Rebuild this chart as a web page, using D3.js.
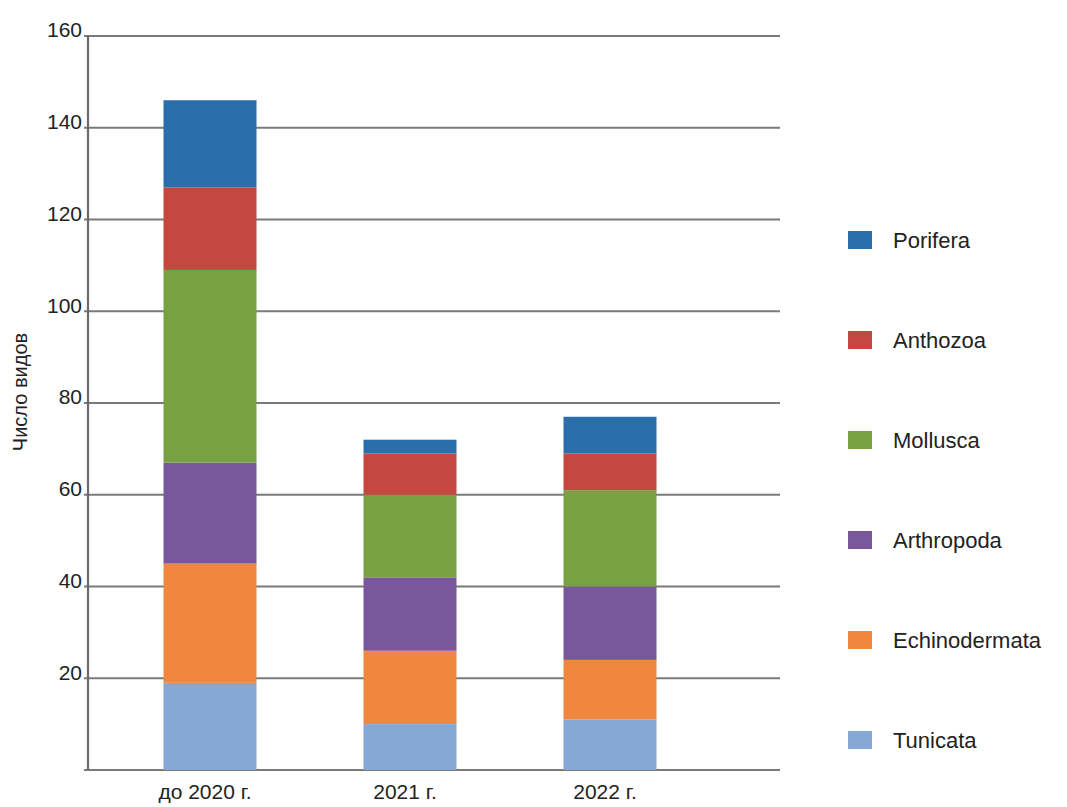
<!DOCTYPE html>
<html>
<head>
<meta charset="utf-8">
<script src="https://cdn.jsdelivr.net/npm/d3@7"></script>
<style>
  body { margin: 0; background: #fff; }
  svg { font-family: "Liberation Sans", Arial, sans-serif; }
</style>
</head>
<body>
<svg width="1067" height="807"></svg>
<script>
// data
const periods = ["до 2020 г.", "2021 г.", "2022 г."];
const groups = ["Tunicata", "Echinodermata", "Arthropoda", "Mollusca", "Anthozoa", "Porifera"];
const tunicata = [19, 10, 11];
const echinodermata = [26, 16, 13];
const arthropoda = [22, 16, 16];
const mollusca = [42, 18, 21];
const anthozoa = [18, 9, 8];
const porifera = [19, 3, 8];
const yTicks = [20, 40, 60, 80, 100, 120, 140, 160];
const gridValues = [0, 20, 40, 60, 80, 100, 120, 140, 160];

const colors = {
  Tunicata: "#86a8d5",
  Echinodermata: "#ef873e",
  Arthropoda: "#7a569a",
  Mollusca: "#78a143",
  Anthozoa: "#c6473f",
  Porifera: "#2a6eab"
};

const rows = periods.map((p, i) => ({
  period: p,
  Tunicata: tunicata[i],
  Echinodermata: echinodermata[i],
  Arthropoda: arthropoda[i],
  Mollusca: mollusca[i],
  Anthozoa: anthozoa[i],
  Porifera: porifera[i]
}));

const svg = d3.select("svg");

const axisX = 88, gridRight = 780;

const x = d3.scaleBand()
    .domain(periods)
    .range([110, 710])
    .paddingInner(0.535)
    .paddingOuter(0.2675);

const y = d3.scaleLinear()
    .domain([0, 160])
    .range([770, 36]);

// gridlines
svg.append("g")
  .selectAll("line")
  .data(gridValues)
  .enter().append("line")
    .attr("x1", axisX - 4)
    .attr("x2", gridRight)
    .attr("y1", d => y(d))
    .attr("y2", d => y(d))
    .attr("stroke", "#7a7a7a")
    .attr("stroke-width", 2.2);

// vertical axis line
svg.append("line")
    .attr("x1", axisX).attr("x2", axisX)
    .attr("y1", y(160)).attr("y2", y(0))
    .attr("stroke", "#6a6a6a")
    .attr("stroke-width", 2.2);

// tick labels
svg.append("g")
  .selectAll("text")
  .data(yTicks)
  .enter().append("text")
    .attr("x", 82)
    .attr("y", d => y(d) - 6)
    .attr("dy", "0.35em")
    .attr("text-anchor", "end")
    .attr("font-size", 21)
    .attr("fill", "#222")
    .text(d => d);

// stacked bars
const stack = d3.stack().keys(groups);
const series = stack(rows);

svg.append("g")
  .selectAll("g")
  .data(series)
  .enter().append("g")
    .attr("fill", d => colors[d.key])
  .selectAll("rect")
  .data(d => d)
  .enter().append("rect")
    .attr("x", d => x(d.data.period))
    .attr("width", x.bandwidth())
    .attr("y", d => y(d[1]))
    .attr("height", d => y(d[0]) - y(d[1]));

// category labels
svg.append("g")
  .selectAll("text")
  .data(periods)
  .enter().append("text")
    .attr("x", d => x(d) + x.bandwidth() / 2 - 5)
    .attr("y", 799)
    .attr("text-anchor", "middle")
    .attr("font-size", 21)
    .attr("fill", "#222")
    .text(d => d);

// y title
svg.append("text")
    .attr("transform", "translate(27, 392) rotate(-90)")
    .attr("text-anchor", "middle")
    .attr("font-size", 20)
    .attr("fill", "#222")
    .text("Число видов");

// legend
const legendOrder = groups.slice().reverse();
const legend = svg.append("g")
  .selectAll("g")
  .data(legendOrder)
  .enter().append("g")
    .attr("transform", (d, i) => `translate(848, ${240 + i * 100})`);

legend.append("rect")
    .attr("x", 0)
    .attr("y", -9)
    .attr("width", 24)
    .attr("height", 18)
    .attr("fill", d => colors[d]);

legend.append("text")
    .attr("x", 45)
    .attr("dy", "0.35em")
    .attr("font-size", 22)
    .attr("fill", "#222")
    .text(d => d);
</script>
</body>
</html>
